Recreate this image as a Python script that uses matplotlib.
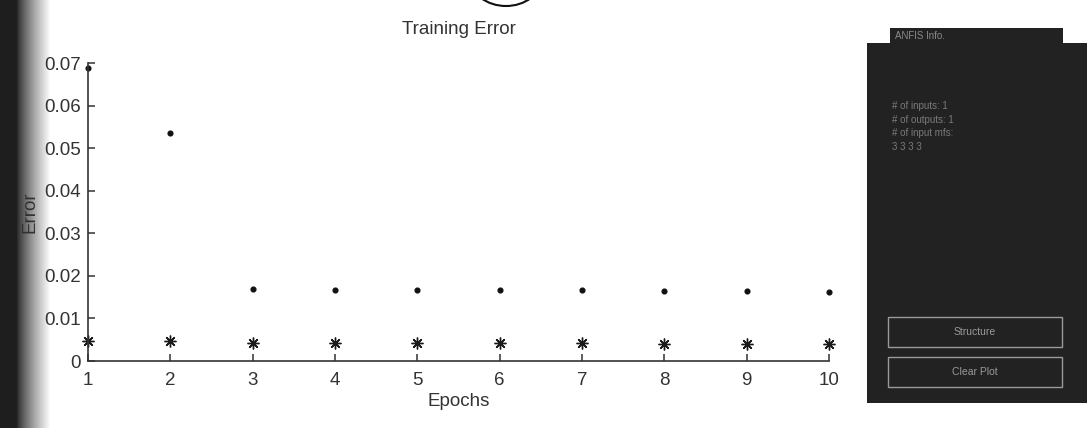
import matplotlib
matplotlib.use("Agg")
import matplotlib.pyplot as plt
import numpy as np
from matplotlib.patches import Rectangle, Ellipse

plt.rcParams['font.family'] = ['Liberation Sans', 'DejaVu Sans']

# ---- data ----
epochs = [1, 2, 3, 4, 5, 6, 7, 8, 9, 10]
dot_err = [0.0689, 0.0535, 0.0168, 0.0167, 0.0167, 0.0167, 0.0166, 0.0165, 0.0164, 0.0163]
star_err = [0.0048, 0.0046, 0.0043, 0.0043, 0.0042, 0.0042, 0.0042, 0.0041, 0.0041, 0.0041]
yticks = [0, 0.01, 0.02, 0.03, 0.04, 0.05, 0.06, 0.07]
ytick_labels = ['0', '0.01', '0.02', '0.03', '0.04', '0.05', '0.06', '0.07']
panel_lines = ['# of inputs: 1', '# of outputs: 1', '# of input mfs:', '3 3 3 3']

W, H = 1091, 428
fig = plt.figure(figsize=(W / 100, H / 100), dpi=100)

def fx(px):
    return px / W

def fy(py):
    return 1 - py / H

# background with dark scanned left edge
bg = fig.add_axes([0, 0, 1, 1], zorder=-10)
bg.set_axis_off()
xs = np.arange(W)
grad = np.clip((xs - 16) / 34.0, 0, 1) ** 0.8
img = np.tile(0.12 + 0.88 * grad, (H, 1))
bg.imshow(img, cmap='gray', vmin=0, vmax=1, aspect='auto', extent=[0, W, H, 0])
bg.set_xlim(0, W)
bg.set_ylim(H, 0)

# partial ellipse at top
bg.add_patch(Ellipse((506, -21), 70, 54, fill=False, lw=1.5, ec='#111111'))

# right GUI panel
bg.add_patch(Rectangle((890, 28), 173, 20, fc='#222222', ec='none'))
bg.add_patch(Rectangle((867, 43), 220, 360, fc='#222222', ec='none'))
bg.text(895, 36, 'ANFIS Info.', color='#8a8a8a', fontsize=7, va='center')
for i, t in enumerate(panel_lines):
    bg.text(892, 106 + i * 13.5, t, color='#7a7a7a', fontsize=7, va='center')
for (y0, lab) in [(317, 'Structure'), (357, 'Clear Plot')]:
    bg.add_patch(Rectangle((888, y0), 174, 30, fc='none', ec='#9a9a9a', lw=1.0))
    bg.text(975, y0 + 15, lab, color='#9a9a9a', fontsize=7.5, ha='center', va='center')

# main axes
ax = fig.add_axes([fx(88), fy(361), fx(829) - fx(88), fy(63) - fy(361)])
ax.patch.set_alpha(0)
ax.plot(epochs, dot_err, linestyle='none', marker='o', ms=3.4, color='#111111', clip_on=False)
ax.plot(epochs, star_err, linestyle='none', marker=(8, 2, 0), ms=8.5, mew=1.0,
        color='#1a1a1a', clip_on=False)

ax.set_xlim(1, 10)
ax.set_ylim(0, 0.07)
ax.set_xticks(epochs)
ax.set_yticks(yticks)
ax.set_yticklabels(ytick_labels)
for s in ['top', 'right']:
    ax.spines[s].set_visible(False)
for s in ['left', 'bottom']:
    ax.spines[s].set_color('#333333')
    ax.spines[s].set_linewidth(1.2)
ax.tick_params(direction='in', length=5, width=1.1, colors='#333333',
               labelsize=13.5, labelcolor='#333333')
ax.tick_params(axis='x', pad=8)
ax.tick_params(axis='y', pad=5)
ax.set_title('Training Error', fontsize=13.5, color='#333333', pad=21)
ax.set_xlabel('Epochs', fontsize=13.5, color='#333333', labelpad=3)
ax.set_ylabel('Error', fontsize=13.5, color='#333333', labelpad=4)

fig.savefig('out.png', dpi=100)
